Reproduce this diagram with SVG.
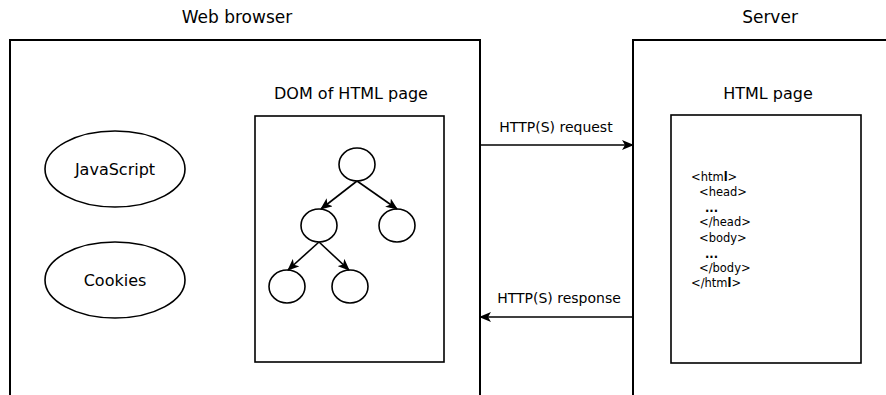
<svg xmlns="http://www.w3.org/2000/svg" width="886" height="395" viewBox="0 0 886 395">
  <style>
    text { font-family: "DejaVu Sans", "Liberation Sans", sans-serif; fill: #000; }
    .title { font-size: 17px; text-anchor: middle; }
    .label { font-size: 16px; text-anchor: middle; }
    .name { font-size: 16px; text-anchor: middle; }
    .edge-label { font-size: 14px; text-anchor: middle; }
    .code { font-size: 11.5px; }
    .frame { fill: none; stroke: #000; stroke-width: 2; }
    .box { fill: #fff; stroke: #000; stroke-width: 1.6; }
    .node { fill: #fff; stroke: #000; stroke-width: 1.6; }
    .conn { fill: none; stroke: #000; stroke-width: 1.6; marker-end: url(#arrow); }
  </style>
  <defs>
    <marker id="arrow" viewBox="0 0 12 10" refX="11" refY="5" markerWidth="12" markerHeight="10" markerUnits="userSpaceOnUse" orient="auto">
      <path d="M0,0 L12,5 L0,10 L3,5 Z" fill="#000"/>
    </marker>
  </defs>

  <rect width="886" height="395" fill="#fff"/>

  <!-- Browser side -->
  <g id="browser">
    <text class="title" x="237" y="23">Web browser</text>
    <path class="frame" d="M10,395 V40 H480 V395"/>
  </g>

  <g id="javascript">
    <ellipse class="node" cx="115" cy="169" rx="70" ry="38"/>
    <text class="name" x="115" y="175">JavaScript</text>
  </g>

  <g id="cookies">
    <ellipse class="node" cx="115" cy="280" rx="70" ry="38"/>
    <text class="name" x="115" y="286">Cookies</text>
  </g>

  <g id="dom">
    <text class="label" x="351" y="99">DOM of HTML page</text>
    <rect class="box" x="255" y="116" width="189" height="246"/>
  </g>

  <g id="dom-root"><ellipse class="node" cx="357" cy="164.5" rx="18" ry="16.5"/></g>
  <g id="dom-left"><ellipse class="node" cx="319" cy="225.5" rx="18" ry="16.5"/></g>
  <g id="dom-right"><ellipse class="node" cx="397" cy="225.5" rx="18" ry="16.5"/></g>
  <g id="dom-left-left"><ellipse class="node" cx="287" cy="286.5" rx="18" ry="16.5"/></g>
  <g id="dom-left-right"><ellipse class="node" cx="350" cy="286.5" rx="18" ry="16.5"/></g>

  <!-- Server side -->
  <g id="server">
    <text class="title" x="770" y="23">Server</text>
    <path class="frame" d="M633,395 V40 H886"/>
  </g>

  <g id="html-page">
    <text class="label" x="768" y="99">HTML page</text>
    <rect class="box" x="671" y="115" width="190" height="248"/>
    <text class="code" x="691" y="181">&lt;htm<tspan font-weight="bold">l</tspan>&gt;</text>
    <text class="code" x="699" y="196">&lt;head&gt;</text>
    <text class="code" x="705" y="212" font-weight="bold">...</text>
    <text class="code" x="699" y="226">&lt;/head&gt;</text>
    <text class="code" x="699" y="242">&lt;body&gt;</text>
    <text class="code" x="705" y="258" font-weight="bold">...</text>
    <text class="code" x="699" y="272">&lt;/body&gt;</text>
    <text class="code" x="691" y="287">&lt;/htm<tspan font-weight="bold">l</tspan>&gt;</text>
  </g>

  <!-- Connectors -->
  <g id="connectors">
    <path class="conn" d="M357,181 L321,209"/>
    <path class="conn" d="M357,181 L397,209"/>
    <path class="conn" d="M319,242 L288,270"/>
    <path class="conn" d="M319,242 L349,270"/>
    <path class="conn" d="M480,145 H633"/>
    <text class="edge-label" x="556" y="132">HTTP(S) request</text>
    <path class="conn" d="M633,317 H480"/>
    <text class="edge-label" x="559" y="303">HTTP(S) response</text>
  </g>
</svg>
